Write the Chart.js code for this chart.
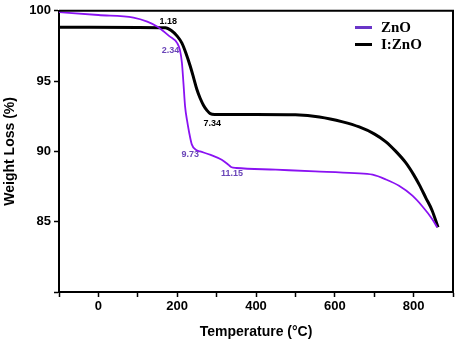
<!DOCTYPE html>
<html>
<head>
<meta charset="utf-8">
<script src="https://cdn.jsdelivr.net/npm/chart.js@4"></script>
<style>
  body { margin: 0; background: #fff; }
  #wrap { position: relative; width: 457px; height: 343px; }
  #legend { position: absolute; left: 355px; top: 19px; font: bold 15px "Liberation Serif", "Times New Roman", serif; color: #000; }
  #legend div { display: flex; align-items: center; height: 17px; }
  #legend span.sw { display: inline-block; width: 17px; height: 3px; margin-right: 9px; }
</style>
</head>
<body>
<div id="wrap">
  <canvas id="tgaChart" width="457" height="343"></canvas>
  <div id="legend"></div>
</div>
<script>
// TGA curves (temperature in °C, weight %)
const znoTemp = [-100, 0, 89, 124, 149, 180, 200, 207, 212, 216, 220, 225, 230, 237, 248, 258, 285, 313, 330, 338, 350, 450, 550, 650, 696, 730, 763, 797, 822, 847, 860];
const znoWeight = [99.9, 99.7, 99.52, 99.23, 98.88, 98.2, 97.7, 97.2, 96.3, 94.8, 93.2, 92.2, 91.4, 90.5, 90.1, 90.0, 89.75, 89.4, 89.05, 88.87, 88.82, 88.7, 88.58, 88.45, 88.34, 88.0, 87.55, 86.85, 86.1, 85.2, 84.6];

const iznoTemp = [-100, 100, 170, 185, 200, 212, 222, 233, 242, 250, 258, 267, 276, 284, 295, 400, 500, 561, 620, 662, 700, 729, 755, 780, 800, 815, 831, 847, 862];
const iznoWeight = [98.83, 98.82, 98.8, 98.6, 98.2, 97.7, 97.0, 96.07, 95.2, 94.4, 93.8, 93.27, 92.9, 92.68, 92.63, 92.63, 92.6, 92.45, 92.1, 91.74, 91.25, 90.7, 90.0, 89.2, 88.35, 87.6, 86.7, 85.8, 84.6];

const seriesNames = ['ZnO', 'I:ZnO'];
const seriesColors = ['#8a12f2', '#000000'];
const legendColors = ['#6a35c8', '#000000'];

// step annotations along the curves
const stepLabels = ['1.18', '2.34', '7.34', '9.73', '11.15'];
const stepTemp = [177, 183, 289, 233, 339];
const stepWeight = [99.25, 97.2, 91.95, 89.8, 88.4];
const stepColors = ['#000000', '#6a45b8', '#000000', '#6a45b8', '#6a45b8'];

const xTicks = [0, 200, 400, 600, 800];
const yTicks = [85, 90, 95, 100];

function toPoints(xs, ys) {
    return xs.map((x, i) => ({ x: x, y: ys[i] }));
}

// frame + step labels
const extrasPlugin = {
    id: 'extras',
    afterDatasetsDraw(chart) {
        const ctx = chart.ctx;
        const a = chart.chartArea;
        ctx.save();
        ctx.strokeStyle = '#000';
        ctx.lineWidth = 2;
        ctx.beginPath();
        ctx.moveTo(a.left, a.top);
        ctx.lineTo(a.right, a.top);
        ctx.lineTo(a.right, a.bottom);
        ctx.stroke();

        ctx.font = 'bold 9px "Liberation Sans", Arial, sans-serif';
        ctx.textAlign = 'center';
        ctx.textBaseline = 'middle';
        stepLabels.forEach((txt, i) => {
            ctx.fillStyle = stepColors[i];
            ctx.fillText(txt, chart.scales.x.getPixelForValue(stepTemp[i]), chart.scales.y.getPixelForValue(stepWeight[i]));
        });
        ctx.restore();
    }
};

const tickFont = { family: '"Liberation Sans", Arial, sans-serif', size: 13, weight: 'bold' };
const titleFont = { family: '"Liberation Sans", Arial, sans-serif', size: 14, weight: 'bold' };

const tgaChart = new Chart(document.getElementById('tgaChart'), {
    type: 'line',
    data: {
        datasets: [
            { label: seriesNames[0], data: toPoints(znoTemp, znoWeight), borderColor: seriesColors[0], borderWidth: 1.8, pointRadius: 0, cubicInterpolationMode: 'monotone' },
            { label: seriesNames[1], data: toPoints(iznoTemp, iznoWeight), borderColor: seriesColors[1], borderWidth: 3, pointRadius: 0, cubicInterpolationMode: 'monotone' }
        ]
    },
    options: {
        responsive: false,
        animation: false,
        layout: { padding: { top: 7, right: 4, left: 0, bottom: 0 } },
        plugins: {
            legend: { display: false },
            tooltip: { enabled: false }
        },
        scales: {
            x: {
                type: 'linear',
                min: -100,
                max: 900,
                afterFit: s => { s.height = 51; },
                ticks: {
                    stepSize: 100,
                    color: '#000',
                    font: tickFont,
                    padding: 2,
                    maxRotation: 0,
                    autoSkip: false,
                    callback: v => xTicks.includes(v) ? String(v) : ''
                },
                grid: { drawOnChartArea: false, drawTicks: true, tickLength: 5, color: '#000', tickWidth: 1.5 },
                border: { display: true, color: '#000', width: 2 },
                title: { display: true, text: 'Temperature (°C)', color: '#000', font: titleFont, padding: { top: 0, bottom: 2 } }
            },
            y: {
                min: 80,
                max: 100,
                afterFit: s => { s.width = 59; },
                ticks: {
                    stepSize: 5,
                    color: '#000',
                    font: tickFont,
                    padding: 3,
                    callback: v => yTicks.includes(v) ? String(v) : ''
                },
                grid: { drawOnChartArea: false, drawTicks: true, tickLength: 5, color: '#000', tickWidth: 1.5 },
                border: { display: true, color: '#000', width: 2 },
                title: { display: true, text: 'Weight Loss (%)', color: '#000', font: titleFont, padding: { top: 2, bottom: 0 } }
            }
        }
    },
    plugins: [extrasPlugin]
});

// legend in the top right corner
document.getElementById('legend').innerHTML = seriesNames.map((name, i) => `
    <div><span class="sw" style="background:${legendColors[i]}"></span>${name}</div>
`).join('');
</script>
</body>
</html>
